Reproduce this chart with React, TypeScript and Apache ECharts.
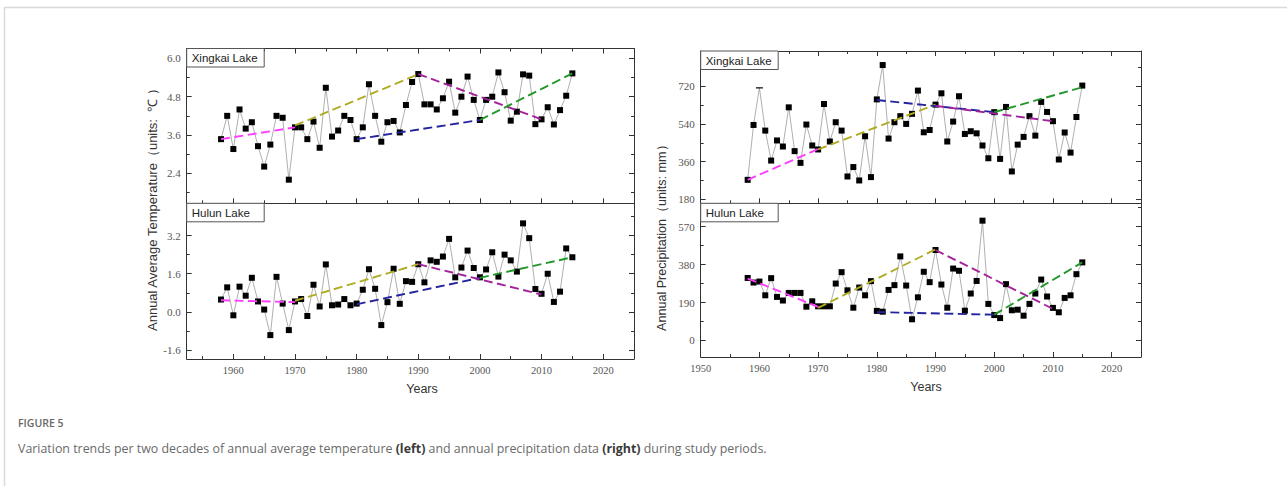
import React, { useEffect, useRef } from "react";
import * as echarts from "echarts";

const years = [
  1958, 1959, 1960, 1961, 1962, 1963, 1964, 1965, 1966, 1967,
  1968, 1969, 1970, 1971, 1972, 1973, 1974, 1975, 1976, 1977,
  1978, 1979, 1980, 1981, 1982, 1983, 1984, 1985, 1986, 1987,
  1988, 1989, 1990, 1991, 1992, 1993, 1994, 1995, 1996, 1997,
  1998, 1999, 2000, 2001, 2002, 2003, 2004, 2005, 2006, 2007,
  2008, 2009, 2010, 2011, 2012, 2013, 2014, 2015,
];

const xingkaiTemp = [
  3.47, 4.2, 3.16, 4.4, 3.8, 4.0, 3.25, 2.61, 3.3, 4.2,
  4.14, 2.2, 3.84, 3.84, 3.47, 4.02, 3.2, 5.08, 3.55, 3.74,
  4.2, 4.07, 3.47, 3.84, 5.19, 4.2, 3.39, 4.0, 4.04, 3.68,
  4.54, 5.26, 5.51, 4.56, 4.56, 4.4, 4.75, 5.27, 4.3, 4.8,
  5.43, 4.7, 4.07, 4.7, 4.8, 5.56, 4.94, 4.05, 4.33, 5.5,
  5.46, 3.94, 4.09, 4.47, 3.93, 4.38, 4.83, 5.53,
];
const hulunTemp = [
  0.52, 1.03, -0.14, 1.06, 0.68, 1.43, 0.44, 0.1, -0.97, 1.47,
  0.35, -0.76, 0.44, 0.54, -0.17, 1.14, 0.23, 1.99, 0.28, 0.31,
  0.54, 0.28, 0.35, 0.93, 1.79, 0.97, -0.55, 0.41, 1.81, 0.34,
  1.29, 1.26, 2.0, 1.24, 2.16, 2.1, 2.32, 3.06, 1.45, 1.86,
  2.57, 1.84, 1.45, 1.78, 2.5, 1.48, 2.4, 2.16, 1.69, 3.71,
  3.09, 0.96, 0.76, 1.6, 0.42, 0.85, 2.66, 2.29,
];
const xingkaiPrec = [
  273, 535, 712, 508, 365, 461, 432, 619, 410, 354,
  537, 437, 418, 635, 456, 548, 508, 289, 334, 270,
  481, 286, 657, 821, 470, 548, 577, 540, 588, 699,
  500, 511, 632, 686, 456, 551, 672, 492, 505, 495,
  437, 376, 596, 373, 621, 313, 441, 478, 577, 484,
  645, 597, 553, 370, 499, 403, 573, 723,
];
const hulunPrec = [
  313, 290, 295, 226, 312, 218, 200, 238, 238, 238,
  169, 196, 171, 171, 171, 285, 342, 251, 164, 265,
  226, 297, 148, 144, 253, 277, 421, 275, 106, 216,
  344, 292, 453, 280, 164, 360, 349, 149, 235, 298,
  600, 183, 127, 112, 282, 151, 154, 124, 183, 235,
  305, 220, 163, 141, 213, 226, 332, 391,
];

// two-decade trend segments: [start year, end year]
const trendYears = [
  [1958, 1970],
  [1970, 1990],
  [1980, 2000],
  [1990, 2010],
  [2000, 2015],
];
const trendColors = ["#ff3cff", "#b0ac22", "#23239e", "#a3229c", "#22972a"];
const xingkaiTempTrend = [[3.47, 3.84], [3.9, 5.5], [3.47, 4.07], [5.51, 4.09], [4.07, 5.53]];
const hulunTempTrend = [[0.49, 0.41], [0.47, 2.0], [0.32, 1.43], [2.0, 0.73], [1.43, 2.29]];
const xingkaiPrecTrend = [[273, 420], [418, 632], [654, 596], [626, 553], [596, 715]];
const hulunPrecTrend = [[310, 168], [163, 456], [142, 129], [453, 158], [129, 391]];

// tick values
const leftYearMajor = [1960, 1970, 1980, 1990, 2000, 2010, 2020];
const leftYearMinor = [1955, 1965, 1975, 1985, 1995, 2005, 2015, 2025];
const rightYearMajor = [1950, 1960, 1970, 1980, 1990, 2000, 2010, 2020];
const rightYearMinor = [1955, 1965, 1975, 1985, 1995, 2005, 2015, 2025];
const xtMajor = [2.4, 3.6, 4.8, 6.0];
const xtMinor = [1.8, 3.0, 4.2, 5.4];
const htMajor = [-1.6, 0.0, 1.6, 3.2];
const htMinor = [-0.8, 0.8, 2.4, 4.0];
const xpMajor = [180, 360, 540, 720];
const xpMinor = [270, 450, 630, 810];
const hpMajor = [0, 190, 380, 570];
const hpMinor = [95, 285, 475, 665];

const AX = "#333";
const SERIF = "'Liberation Serif', 'DejaVu Serif', serif";
const SANS = "'Liberation Sans', Arial, sans-serif";

function axis(gridIndex: number, pos: string, min: number, max: number, ticks: number[], len: number, line: boolean, tickShow: boolean, label: boolean, fmt?: (v: number) => string, fs = 10.5) {
  return {
    type: "value",
    gridIndex,
    position: pos,
    min,
    max,
    axisLine: { show: line, onZero: false, lineStyle: { color: AX, width: 1 } },
    axisTick: { show: tickShow, inside: true, length: len, customValues: ticks, lineStyle: { color: AX, width: 1 } },
    axisLabel: label
      ? { show: true, customValues: ticks, formatter: fmt, color: "#555", fontFamily: SERIF, fontSize: fs, margin: 6 }
      : { show: false },
    splitLine: { show: false },
  };
}

const panels = [
  { grid: { left: 186.7, top: 48.5, width: 447.3, height: 154.8 }, xr: [1952.43, 2025], yr: [1.46, 6.31], xM: leftYearMajor, xm: leftYearMinor, yM: xtMajor, ym: xtMinor, xLabel: false, topTicks: true, data: xingkaiTemp, trend: xingkaiTempTrend, fmt: (v: number) => v.toFixed(1), box: "Xingkai Lake" },
  { grid: { left: 186.7, top: 203.3, width: 447.3, height: 155.7 }, xr: [1952.43, 2025], yr: [-1.97, 4.55], xM: leftYearMajor, xm: leftYearMinor, yM: htMajor, ym: htMinor, xLabel: true, topTicks: false, data: hulunTemp, trend: hulunTempTrend, fmt: (v: number) => v.toFixed(1), box: "Hulun Lake" },
  { grid: { left: 700.7, top: 51, width: 440.3, height: 152.3 }, xr: [1950, 2025], yr: [161, 888], xM: rightYearMajor, xm: rightYearMinor, yM: xpMajor, ym: xpMinor, xLabel: false, topTicks: true, data: xingkaiPrec, trend: xingkaiPrecTrend, fmt: (v: number) => String(v), box: "Xingkai Lake" },
  { grid: { left: 700.7, top: 203.3, width: 440.3, height: 153.7 }, xr: [1950, 2025], yr: [-83, 687], xM: rightYearMajor, xm: rightYearMinor, yM: hpMajor, ym: hpMinor, xLabel: true, topTicks: false, data: hulunPrec, trend: hulunPrecTrend, fmt: (v: number) => String(v), box: "Hulun Lake" },
];

function buildOption() {
  const grid: any[] = [];
  const xAxis: any[] = [];
  const yAxis: any[] = [];
  const series: any[] = [];
  const graphic: any[] = [];

  panels.forEach((p, g) => {
    grid.push({ ...p.grid, outerBoundsMode: "none" });
    const [x0, x1] = p.xr;
    const [y0, y1] = p.yr;
    xAxis.push(axis(g, "bottom", x0, x1, p.xM, 5, true, true, p.xLabel, (v: number) => String(v)));
    xAxis.push(axis(g, "bottom", x0, x1, p.xm, 3, false, true, false));
    xAxis.push(axis(g, "top", x0, x1, p.xM, 5, true, p.topTicks, false));
    xAxis.push(axis(g, "top", x0, x1, p.xm, 3, false, p.topTicks, false));
    yAxis.push(axis(g, "left", y0, y1, p.yM, 5, true, true, true, p.fmt, 11));
    yAxis.push(axis(g, "left", y0, y1, p.ym, 3, false, true, false));
    yAxis.push(axis(g, "right", y0, y1, p.yM, 5, true, true, false));
    yAxis.push(axis(g, "right", y0, y1, p.ym, 3, false, true, false));

    const pts = years.map((yr, i) => {
      if (g === 2 && yr === 1960) {
        return { value: [yr, p.data[i]], symbolSize: [7, 1.2] };
      }
      return [yr, p.data[i]];
    });
    series.push({
      type: "line",
      xAxisIndex: g * 4,
      yAxisIndex: g * 4,
      data: pts,
      symbol: "rect",
      symbolSize: 6,
      itemStyle: { color: "#000" },
      lineStyle: { color: "#9a9a9a", width: 0.8 },
      z: 3,
    });
    p.trend.forEach((t, k) => {
      series.push({
        type: "line",
        xAxisIndex: g * 4,
        yAxisIndex: g * 4,
        data: [
          [trendYears[k][0], t[0]],
          [trendYears[k][1], t[1]],
        ],
        symbol: "none",
        lineStyle: { color: trendColors[k], width: 1.9, type: [9, 4.5] },
        z: 4,
      });
    });

    graphic.push({
      type: "rect",
      z: 100,
      shape: { x: p.grid.left, y: p.grid.top, width: 77.5, height: 18.5 },
      style: { fill: "#fff", stroke: "#555", lineWidth: 1 },
    });
    graphic.push({
      type: "text",
      z: 101,
      x: p.grid.left + 5,
      y: p.grid.top + 9.5,
      style: { text: p.box, fontSize: 11.5, fontFamily: SANS, fill: "#222", align: "left", verticalAlign: "middle" },
    });
  });

  graphic.push({
    type: "rect",
    z: 0,
    shape: { x: 4.5, y: 7.5, width: 1300, height: 500 },
    style: { fill: "none", stroke: "#d9d9d9", lineWidth: 1.5 },
  });
  graphic.push({
    type: "text",
    z: 101,
    x: 152,
    y: 331,
    rotation: Math.PI / 2,
    style: { text: "Annual Average Temperature（units:  ℃ ）", fontSize: 13, fontFamily: SANS, fill: "#333", align: "left", verticalAlign: "middle" },
  });
  graphic.push({
    type: "text",
    z: 101,
    x: 662,
    y: 331,
    rotation: Math.PI / 2,
    style: { text: "Annual Precipitation（units: mm）", fontSize: 12.6, fontFamily: SANS, fill: "#333", align: "left", verticalAlign: "middle" },
  });
  graphic.push({
    type: "text",
    z: 101,
    x: 422,
    y: 389,
    style: { text: "Years", fontSize: 12.5, fontFamily: SANS, fill: "#333", align: "center", verticalAlign: "middle" },
  });
  graphic.push({
    type: "text",
    z: 101,
    x: 926,
    y: 387,
    style: { text: "Years", fontSize: 12.5, fontFamily: SANS, fill: "#333", align: "center", verticalAlign: "middle" },
  });
  graphic.push({
    type: "text",
    z: 101,
    x: 18,
    y: 423,
    style: { text: "FIGURE 5", fontSize: 10.5, fontWeight: 600, fontFamily: "'Open Sans', sans-serif", fill: "#666", align: "left", verticalAlign: "middle" },
  });
  graphic.push({
    type: "text",
    z: 101,
    x: 18,
    y: 448,
    style: {
      text: "Variation trends per two decades of annual average temperature {b|(left)} and annual precipitation data {b|(right)} during study periods.",
      fontSize: 12.4,
      fontFamily: "'Open Sans', sans-serif",
      fill: "#6a6a6a",
      align: "left",
      verticalAlign: "middle",
      rich: {
        b: { fontSize: 12.4, fontFamily: "'Open Sans', sans-serif", fontWeight: "bold", fill: "#3a3a3a" },
      },
    },
  });

  return {
    animation: false,
    backgroundColor: "#fff",
    grid,
    xAxis,
    yAxis,
    series,
    graphic,
  };
}

export default function App() {
  const ref = useRef<HTMLDivElement>(null);
  useEffect(() => {
    if (!ref.current) return;
    const chart = echarts.init(ref.current, undefined, { renderer: "svg" });
    chart.setOption(buildOption() as any);
    return () => chart.dispose();
  }, []);
  return <div ref={ref} style={{ position: "fixed", left: 0, top: 0, width: 1287, height: 486 }} />;
}
